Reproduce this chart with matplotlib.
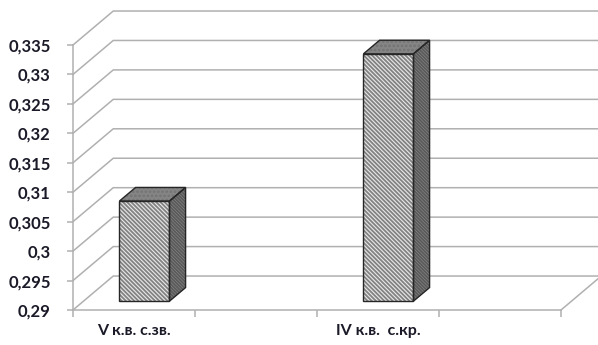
import numpy as np
import matplotlib.pyplot as plt
from matplotlib.patches import Polygon

plt.rcParams['font.family'] = ['Lato', 'DejaVu Sans']
plt.rcParams['hatch.linewidth'] = 1.3

# data
categories = ['V к.в. с.зв.', '', 'IV к.в.  с.кр.', '']
values = [0.307, np.nan, 0.332, np.nan]
y_ticks = [0.29, 0.295, 0.30, 0.305, 0.31, 0.315, 0.32, 0.325, 0.33, 0.335]
y_labels = ['0,29', '0,295', '0,3', '0,305', '0,31', '0,315', '0,32', '0,325', '0,33', '0,335']

y_min, y_max = 0.29, 0.335

# oblique depth offset of the back wall, in data units
DX = 0.33
DY = 0.00577

grid_col = '#b0b0b0'
text_col = '#1a1a28'


def proj(x, v, d):
    return (x + d * DX, v + d * DY)


fig = plt.figure(figsize=(5.98, 3.45), dpi=100)
ax = fig.add_axes([73 / 598, 35 / 345, 488 / 598, 265 / 345])
ax.set_xlim(-0.5, len(categories) - 0.5)
ax.set_ylim(y_min, y_max)

for s in ['top', 'right']:
    ax.spines[s].set_visible(False)
for s in ['left', 'bottom']:
    ax.spines[s].set_color(grid_col)
    ax.spines[s].set_linewidth(1.1)

# walls: back gridlines, side diagonals, floor
x_left = -0.5
x_right = len(categories) - 0.5
for v in y_ticks:
    p0 = proj(x_left, v, 0)
    p1 = proj(x_left, v, 1)
    p2 = proj(x_right + 0.3, v, 1)
    ax.plot([p0[0], p1[0], p2[0]], [p0[1], p1[1], p2[1]],
            color=grid_col, lw=1.1, clip_on=False, zorder=1)
f0 = proj(x_right, y_min, 0)
f1 = proj(x_right, y_min, 1)
ax.plot([f0[0], f1[0]], [f0[1], f1[1]], color=grid_col, lw=1.1,
        clip_on=False, zorder=1)

# 3d bars
w = 0.41
d0, d1 = 0.26, 0.66
for i, val in enumerate(values):
    if np.isnan(val):
        continue
    l, r = i - w / 2, i + w / 2
    front = [proj(l, y_min, d0), proj(r, y_min, d0), proj(r, val, d0), proj(l, val, d0)]
    side = [proj(r, y_min, d0), proj(r, y_min, d1), proj(r, val, d1), proj(r, val, d0)]
    top = [proj(l, val, d0), proj(r, val, d0), proj(r, val, d1), proj(l, val, d1)]
    faces = [(front, '#e8e8e8', '#828282', '\\' * 8),
             (side, '#8c8c8c', '#5a5a5a', '\\' * 10),
             (top, '#858585', '#737373', '....')]
    for pts, fc, hc, h in faces:
        ax.add_patch(Polygon(pts, closed=True, facecolor=fc, edgecolor=hc,
                             hatch=h, lw=0, clip_on=False, zorder=3))
        ax.add_patch(Polygon(pts, closed=True, facecolor='none',
                             edgecolor='#262626', lw=1.0, clip_on=False,
                             zorder=4, joinstyle='miter'))

# axes ticks
ax.set_yticks(y_ticks)
ax.set_yticklabels(y_labels, fontsize=12, fontweight='bold', color=text_col)
ax.tick_params(axis='y', length=4, width=1.1, color=grid_col, pad=12)

ax.set_xticks(np.arange(-0.5, len(categories), 1.0))
ax.set_xticklabels([])
ax.set_xticks(np.arange(len(categories)), minor=True)
ax.set_xticklabels(categories, minor=True, fontsize=11.5, fontweight='bold',
                   color=text_col)
ax.tick_params(axis='x', which='major', length=5, width=1.1, color=grid_col)
ax.tick_params(axis='x', which='minor', length=0, pad=10)

fig.savefig('out.png', dpi=100)
